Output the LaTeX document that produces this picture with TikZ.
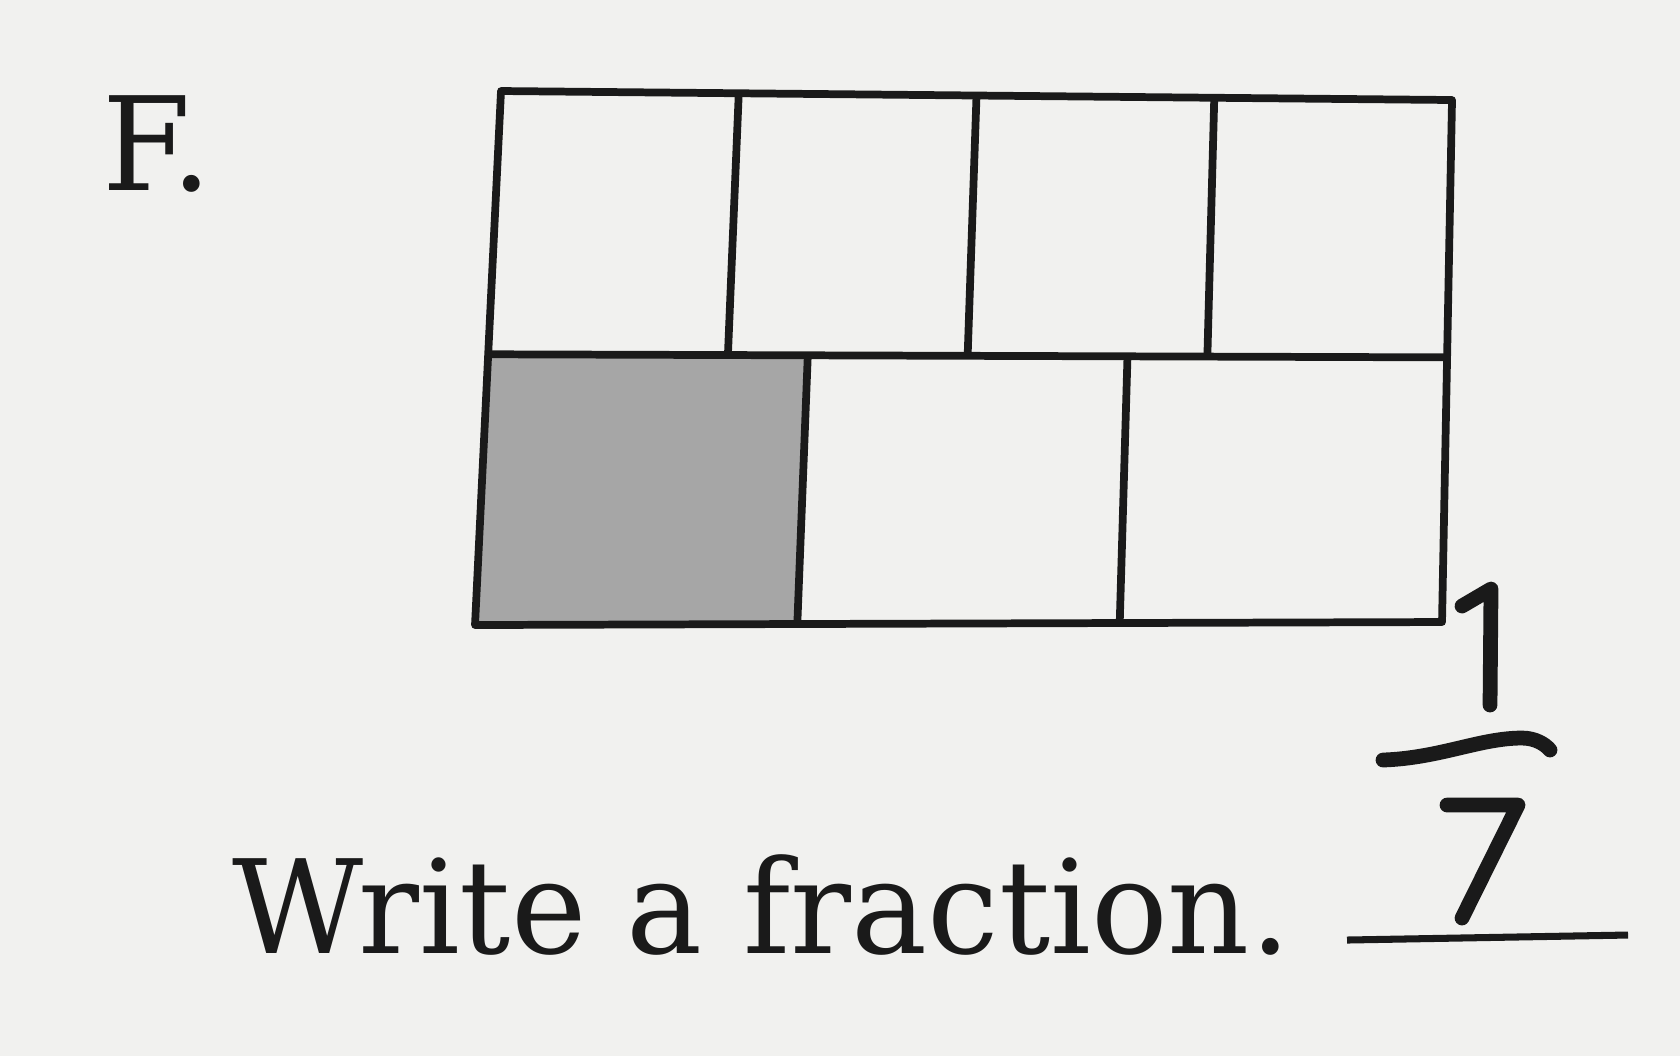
\documentclass[tikz,border=0pt]{standalone}
\usepackage{fontspec}
\setmainfont[FakeStretch=0.98]{DejaVu Serif}
\usetikzlibrary{calc}
\definecolor{paper}{RGB}{241,241,239}
\definecolor{ink}{RGB}{26,26,26}
\definecolor{tint}{RGB}{166,166,166}
\tikzset{
  grid line/.style={draw=ink, line width=2.2pt, line join=round},
  pen/.style={draw=ink, line width=4.2pt, line cap=round, line join=round},
  print/.style={text=ink, inner sep=0pt, font=\fontsize{37}{44}\selectfont}
}
\begin{document}
\begin{tikzpicture}[x=0.01cm, y=-0.01cm]
\fill[paper] (0,0) rectangle (1680,1056);
\useasboundingbox (0,0) rectangle (1680,1056);
% label and task
\node[print, anchor=base west] (label) at (102,190) {F.};
\node[print, anchor=base west] (task) at (232,953) {Write a fraction.};
% corners of the strip
\coordinate (tl) at (501,91);
\coordinate (tr) at (1452,100);
\coordinate (br) at (1442,622);
\coordinate (bl) at (475,625);
\coordinate (ml) at ($(tl)!0.493!(bl)$);
\coordinate (mr) at ($(tr)!0.493!(br)$);
% shaded part
\fill[tint] (ml) -- ($(ml)!1/3!(mr)$) -- ($(bl)!1/3!(br)$) -- (bl) -- cycle;
% cells
\draw[grid line] (tl) -- (tr) -- (br) -- (bl) -- cycle;
\draw[grid line] (ml) -- (mr);
\foreach \f in {0.25,0.5,0.75}
  \draw[grid line] ($(tl)!\f!(tr)$) -- ($(ml)!\f!(mr)$);
\foreach \f in {0.3333,0.6667}
  \draw[grid line] ($(ml)!\f!(mr)$) -- ($(bl)!\f!(br)$);
% handwritten answer
\draw[pen] (1462,606) -- (1491,589) -- (1490,705);
\draw[pen] (1383,760) .. controls (1440,758) and (1480,738) .. (1522,738)
  .. controls (1535,738) and (1545,744) .. (1550,750);
\draw[pen] (1447,805) -- (1518,805) -- (1462,918);
\coordinate (lineA) at (1347,940);
\coordinate (lineB) at (1628,935);
\draw[draw=ink, line width=2pt] (lineA) -- (lineB);
\end{tikzpicture}
\end{document}
